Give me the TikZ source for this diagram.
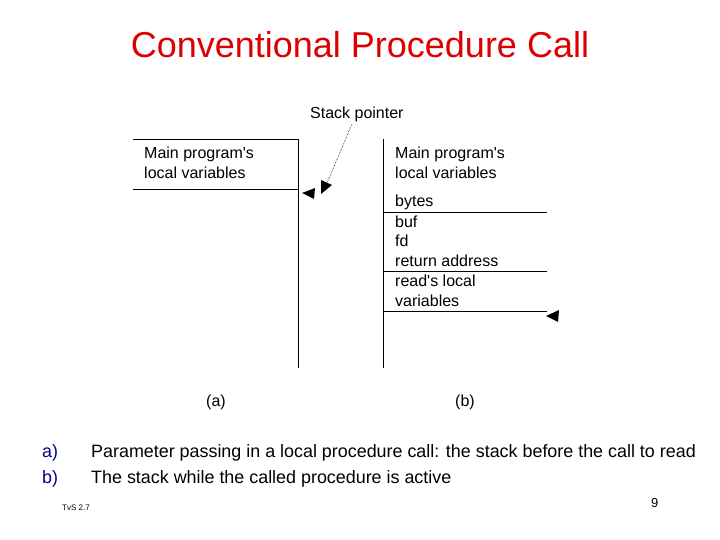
\documentclass[tikz,border=0pt]{standalone}
\usepackage{fontspec}
\setmainfont{Liberation Sans}
\begin{document}
\begin{tikzpicture}[x=1pt,y=-1pt,
  lbl/.style={anchor=west,inner sep=0pt,font=\fontsize{16}{18}\selectfont},
  ln/.style={line width=0.8pt},
  tip/.style={fill=black}]
\useasboundingbox (0,0) rectangle (720,540);
\node (title) at (360,45) {\fontsize{36}{40}\selectfont\color[RGB]{220,0,0}Conventional Procedure Call};
% left stack
\coordinate (l1) at (133,139); \coordinate (l2) at (298,139);
\coordinate (l3) at (133,189); \coordinate (l4) at (298,189);
\coordinate (l5) at (298,368);
\draw[ln] (l1) -- (l2) -- (l5);
\draw[ln] (l3) -- (l4);
% right stack
\coordinate (r1) at (383,139); \coordinate (r2) at (383,368);
\draw[ln] (r1) -- (r2);
\foreach \y in {212,271,311} \draw[ln] (383,\y) -- (547,\y);
% arrowheads
\fill[tip] (302,193) -- (315,188) -- (314,199) -- cycle;
\fill[tip] (546,316) -- (559,310) -- (558,322) -- cycle;
\node[lbl] (sp) at (310,114) {Stack pointer};
\coordinate (spend) at (327,183);
\draw[densely dotted, line width=0.6pt] (352,124) -- (spend);
\fill[tip] (321,194) -- (321,180) -- (332,185) -- cycle;
% texts
\node[lbl] (a1) at (144,154) {Main program\textquotesingle s};
\node[lbl] (a2) at (144,173) {local variables};
\node[lbl] (b1) at (395,154) {Main program\textquotesingle s};
\node[lbl] (b2) at (395,173) {local variables};
\node[lbl] (b3) at (395,202) {bytes};
\node[lbl] (b4) at (395,222) {buf};
\node[lbl] (b5) at (395,241) {fd};
\node[lbl] (b6) at (395,261) {return address};
\node[lbl] (b7) at (395,281) {read\textquotesingle s local};
\node[lbl] (b8) at (395,301) {variables};
\node[lbl] (ca) at (206,402) {(a)};
\node[lbl] (cb) at (455,402) {(b)};
% bottom
\node[lbl,font=\fontsize{17.9}{20}\selectfont,text={rgb,255:red,0;green,0;blue,140}] (ia) at (42,453) {a)};
\node[lbl,font=\fontsize{17.9}{20}\selectfont,text={rgb,255:red,0;green,0;blue,140}] (ib) at (42,479) {b)};
\node[lbl,font=\fontsize{17.9}{20}\selectfont] (ta) at (91,453) {Parameter passing in a local procedure call: the stack before the call to read};
\node[lbl,font=\fontsize{17.9}{20}\selectfont] (tb) at (91,479) {The stack while the called procedure is active};
\node[lbl,font=\fontsize{8}{9}\selectfont] (tvs) at (62,508) {TvS 2.7};
\node[lbl,font=\fontsize{13}{15}\selectfont] (pg) at (651,503) {9};
\end{tikzpicture}
\end{document}
